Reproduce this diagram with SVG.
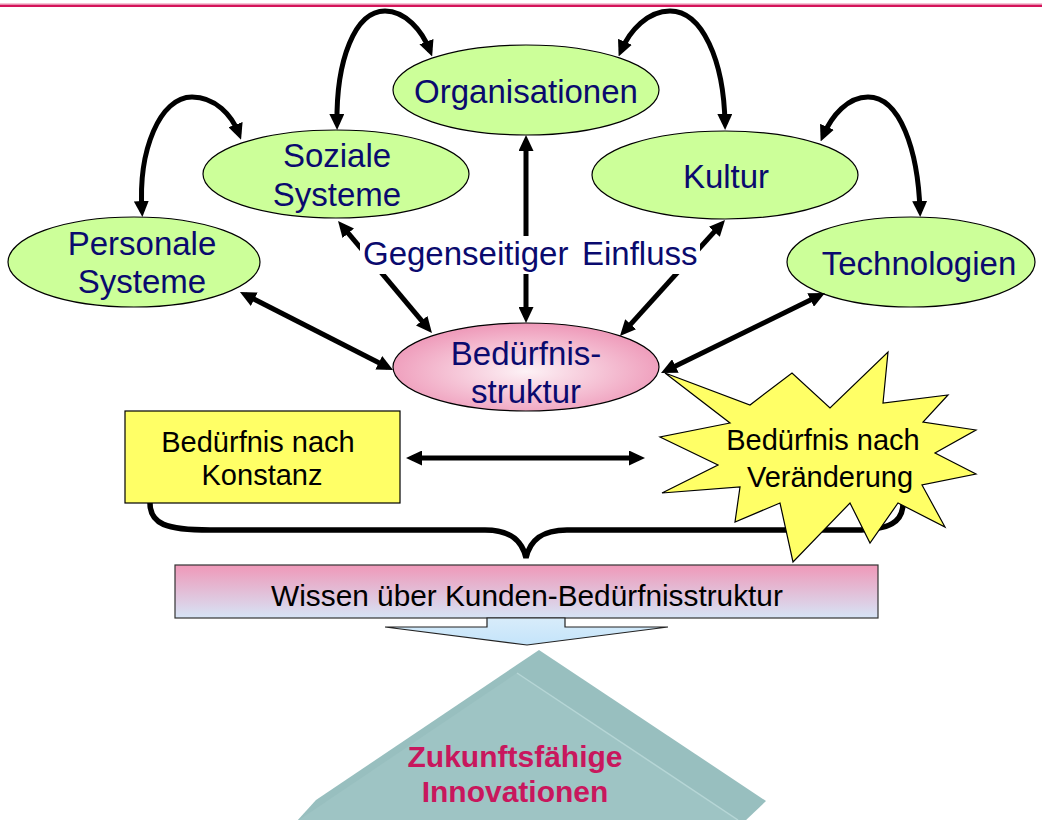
<svg xmlns="http://www.w3.org/2000/svg" width="1042" height="820" viewBox="0 0 1042 820">
  <defs>
    <style>
      .ell { fill: #ccff99; stroke: #000; stroke-width: 1.2; }
      .nt { font-family: "Liberation Sans", Arial, sans-serif; font-size: 33px; fill: #0a0a6e; text-anchor: middle; }
      .bt { font-family: "Liberation Sans", Arial, sans-serif; font-size: 29px; fill: #000; text-anchor: middle; }
      .con { fill: none; stroke: #000; stroke-width: 5; marker-start: url(#ah); marker-end: url(#ah); }
      .it { font-family: "Liberation Sans", Arial, sans-serif; font-size: 30px; font-weight: bold; fill: #c8175d; text-anchor: middle; }
    </style>
    <marker id="ah" viewBox="0 0 16 15" refX="10" refY="7.5" markerWidth="16" markerHeight="15" markerUnits="userSpaceOnUse" orient="auto-start-reverse">
      <path d="M0,0 L16,7.5 L0,15 Z" fill="#000"/>
    </marker>
    <radialGradient id="pinkG" cx="0.5" cy="0.55" r="0.55">
      <stop offset="0" stop-color="#fdf2f6"/>
      <stop offset="1" stop-color="#ee98b8"/>
    </radialGradient>
    <linearGradient id="boxG" x1="0" y1="0" x2="0" y2="1">
      <stop offset="0" stop-color="#ef98b8"/>
      <stop offset="1" stop-color="#d6e4f6"/>
    </linearGradient>
    <linearGradient id="arrG" x1="0" y1="0" x2="0" y2="1">
      <stop offset="0" stop-color="#d8ecfa"/>
      <stop offset="1" stop-color="#c4e4fa"/>
    </linearGradient>
  </defs>

  <rect width="1042" height="820" fill="#fff"/>

  <!-- top rule -->
  <rect x="0" y="3.5" width="1042" height="1.5" fill="#e98aac"/>
  <rect x="0" y="5" width="1042" height="2" fill="#d4145a"/>

  <!-- base shape -->
  <g id="innovationen">
    <polygon points="539,650 766,801 744,822 296,822 316,800" fill="#98bfbf"/>
    <polygon points="517,673 740,822 296,822" fill="#9ec4c4"/>
    <line x1="517" y1="673" x2="738" y2="820" stroke="#b6d6d6" stroke-width="1.5"/>
    <text class="it" x="515" y="767">Zukunftsfähige</text>
    <text class="it" x="515" y="802">Innovationen</text>
  </g>

  <!-- brace -->
  <g id="brace">
    <path d="M150,503 C150,524 166,530 210,530 L485,530 C510,530 522,540 526,558 C530,540 542,530 567,530 L855,530 C890,530 903,522 903,503" fill="none" stroke="#000" stroke-width="5.5"/>
  </g>

  <g id="personale">
    <ellipse class="ell" cx="134" cy="262" rx="126" ry="45"/>
    <text class="nt" x="142" y="255">Personale</text>
    <text class="nt" x="142" y="293">Systeme</text>
  </g>
  <g id="soziale">
    <ellipse class="ell" cx="336" cy="174" rx="133" ry="44"/>
    <text class="nt" x="337" y="167">Soziale</text>
    <text class="nt" x="337" y="206">Systeme</text>
  </g>
  <g id="organisationen">
    <ellipse class="ell" cx="526" cy="90" rx="133" ry="45"/>
    <text class="nt" x="526" y="103">Organisationen</text>
  </g>
  <g id="kultur">
    <ellipse class="ell" cx="725" cy="175" rx="133" ry="44"/>
    <text class="nt" x="726" y="188">Kultur</text>
  </g>
  <g id="technologien">
    <ellipse class="ell" cx="911" cy="262" rx="124" ry="45"/>
    <text class="nt" x="919" y="275">Technologien</text>
  </g>
  <g id="beduerfnisstruktur">
    <ellipse cx="526" cy="367" rx="133" ry="44" fill="url(#pinkG)" stroke="#000" stroke-width="1.2"/>
    <text class="nt" x="526" y="365">Bedürfnis-</text>
    <text class="nt" x="526" y="403">struktur</text>
  </g>
  <g id="konstanz">
    <rect x="125" y="411" width="275" height="92" fill="#ffff66" stroke="#000" stroke-width="1.2"/>
    <text class="bt" x="258" y="452">Bedürfnis nach</text>
    <text class="bt" x="262" y="485">Konstanz</text>
  </g>
  <g id="veraenderung">
    <polygon points="665,373 750,405 792,373 830,408 888,352 883,403 948,395 923,422 976,430 935,453 976,474 922,485 945,527 898,503 870,543 850,503 793,562 780,503 735,522 740,487 662,493 718,465 660,437 730,423" fill="#ffff66" stroke="#000" stroke-width="1.2" stroke-linejoin="miter"/>
    <text class="bt" x="823" y="450">Bedürfnis nach</text>
    <text class="bt" x="830" y="487">Veränderung</text>
  </g>
  <g id="wissen">
    <rect x="175" y="565" width="703" height="53" fill="url(#boxG)" stroke="#333" stroke-width="1.2"/>
    <text class="bt" x="527" y="606" style="font-size:29.8px">Wissen über Kunden-Bedürfnisstruktur</text>
    <polygon points="487,618 487,627 385,627 527,645 668,627 565,627 565,618" fill="url(#arrG)" stroke="#222" stroke-width="1.2"/>
  </g>

  <g id="connectors">
    <path class="con" d="M142,211 C138,150 160,97 192,97 C215,97 232,115 239,134"/>
    <path class="con" d="M337,124 C336,60 355,11 385,11 C405,11 422,30 430,51"/>
    <path class="con" d="M621,51 C630,30 648,11 670,11 C702,11 724,60 725,124"/>
    <path class="con" d="M823,136 C832,115 848,97 868,97 C900,97 918,150 920,211"/>
    <line class="con" x1="245.3" y1="294.7" x2="387.7" y2="367.3"/>
    <line class="con" x1="341.9" y1="225.6" x2="428.1" y2="328.4"/>
    <line class="con" x1="526" y1="141" x2="526" y2="317"/>
    <line class="con" x1="721" y1="224.4" x2="624" y2="331.6"/>
    <line class="con" x1="819.6" y1="295.6" x2="666.4" y2="370.4"/>
    <line class="con" x1="412" y1="458" x2="639" y2="458"/>
  </g>

  <g id="label">
    <rect x="360" y="236" width="340" height="38" fill="#fff"/>
    <text class="nt" x="363" y="265" style="text-anchor:start">Gegenseitiger</text>
    <text class="nt" x="582" y="265" style="text-anchor:start">Einfluss</text>
  </g>
</svg>
